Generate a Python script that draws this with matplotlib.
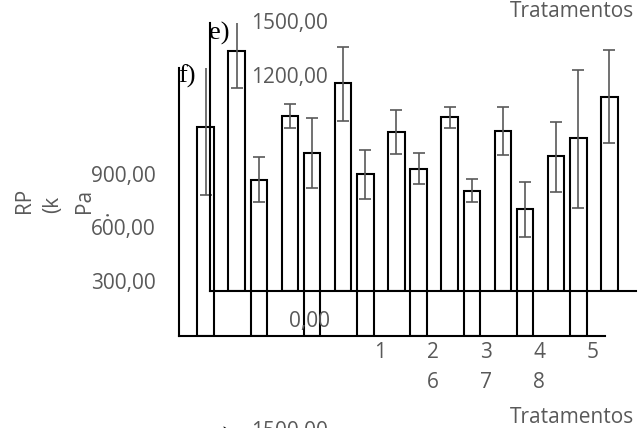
import matplotlib
matplotlib.use("Agg")
import matplotlib.pyplot as plt
import numpy as np

# ---------------- data ----------------
treatments = ["1", "2", "3", "4", "5", "6", "7", "8"]

# panel e)
e_mean = [1343, 979, 1164, 890, 974, 895, 755, 1086]
e_err_hi = [1520, 1046, 1365, 1013, 1030, 1030, 946, 1349]
e_err_lo = [1136, 912, 951, 767, 912, 761, 554, 828]

# panel f)
f_mean = [1169, 872, 1024, 906, 934, 810, 709, 1108]
f_err_hi = [1520, 1001, 1220, 1040, 1024, 878, 861, 1489]
f_err_lo = [788, 749, 827, 766, 850, 749, 552, 715]

y_tick_labels = ["1500,00", "1200,00", "900,00", "600,00", "300,00", "0,00"]
x_row1 = ["1", "2", "3", "4", "5"]
x_row2 = ["6", "7", "8"]
x_title = "Tratamentos"
y_title_parts = ["RP", "(k", "Pa", "."]
panel_e = "e)"
panel_f = "f)"

# ---------------- figure ----------------
W, H = 643, 428
fig = plt.figure(figsize=(W / 100, H / 100), dpi=100)
fig.patch.set_facecolor("white")

GRAY = "#595959"
SANS = ["Open Sans", "DejaVu Sans"]
SERIF = ["Liberation Serif", "DejaVu Serif"]
FS = 15


def px_axes(left, top, right, bottom):
    return fig.add_axes([left / W, 1 - bottom / H, (right - left) / W, (bottom - top) / H])


def draw_panel(ax, mean, lo, hi):
    x = np.arange(len(treatments))
    ax.bar(x, mean, width=0.31, facecolor="none", edgecolor="black", linewidth=1.5, zorder=2)
    m = np.array(mean)
    yerr = np.vstack([m - np.array(lo), np.array(hi) - m])
    ax.errorbar(x, m, yerr=yerr, fmt="none", ecolor=GRAY, elinewidth=1.2,
                capsize=4, capthick=1.2, zorder=3)
    ax.set_xlim(-0.5, len(treatments) - 0.5)
    ax.set_ylim(0, 1500)
    ax.patch.set_visible(False)
    for s in ["top", "right"]:
        ax.spines[s].set_visible(False)
    for s in ["left", "bottom"]:
        ax.spines[s].set_linewidth(1.5)
        ax.spines[s].set_color("black")
    ax.set_xticks([])
    ax.set_yticks([])


ax_f = px_axes(179, 68, 605, 335.5)
draw_panel(ax_f, f_mean, f_err_lo, f_err_hi)
ax_e = px_axes(210, 23, 636, 291)
draw_panel(ax_e, e_mean, e_err_lo, e_err_hi)


def t(x, y, s, **kw):
    fig.text(x / W, 1 - y / H, s, **kw)


# y tick labels (as placed in the reference)
tick_pos = [(328, 24), (328, 77), (156, 177), (156, 229), (156, 283), (330, 322)]
for (x, y), s in zip(tick_pos, y_tick_labels):
    t(x, y, s, ha="right", va="center", color=GRAY, fontsize=FS, family=SANS)

# x tick labels
for x, s in zip([380, 433, 486, 539, 593], x_row1):
    t(x, 353, s, ha="center", va="center", color=GRAY, fontsize=FS, family=SANS)
for x, s in zip([433, 486, 539], x_row2):
    t(x, 383, s, ha="center", va="center", color=GRAY, fontsize=FS, family=SANS)

# axis titles
t(634, 17, x_title, ha="right", va="baseline", color=GRAY, fontsize=FS, family=SANS)
t(634, 423, x_title, ha="right", va="baseline", color=GRAY, fontsize=FS, family=SANS)
for x, y, s in zip([24, 53, 84, 103], [213, 213, 213, 216], y_title_parts):
    t(x, y, s, ha="left", va="center", rotation=90, rotation_mode="anchor",
      color=GRAY, fontsize=FS, family=SANS)

# panel letters
t(209, 33, panel_e, ha="left", va="center", color="black", fontsize=19, family=SERIF)
t(178, 76, panel_f, ha="left", va="center", color="black", fontsize=19, family=SERIF)

# partially visible next panel at the bottom edge
t(211, 438, panel_e, ha="left", va="center", color="black", fontsize=19, family=SERIF)
t(328, 432, y_tick_labels[0], ha="right", va="center", color=GRAY, fontsize=FS, family=SANS)

fig.savefig("out.png", dpi=100, facecolor="white")
